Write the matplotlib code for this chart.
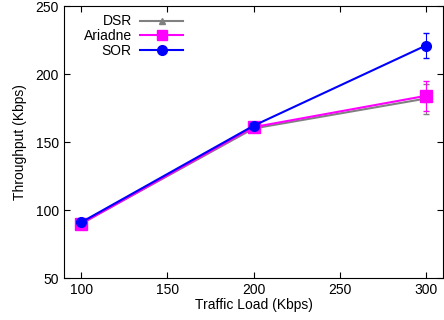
import matplotlib
matplotlib.use("Agg")
import matplotlib.pyplot as plt
from matplotlib.lines import Line2D

plt.rcParams["font.family"] = ["Liberation Sans", "DejaVu Sans"]

# traffic load (Kbps) and throughput (Kbps) per protocol
loads = [100, 200, 300]
dsr = [90, 160, 182]
dsr_err = [1, 2, 11]
ariadne = [90, 161, 184]
ariadne_err = [1, 2, 11]
sor = [91, 162, 221]
sor_err = [1, 2, 9]

series = [
    ("DSR", dsr, dsr_err, "#808080", "^", 5, 5),
    ("Ariadne", ariadne, ariadne_err, "#ff00ff", "s", 8, 7),
    ("SOR", sor, sor_err, "#0000ff", "o", 7, 7),
]

fig = plt.figure(figsize=(4.44, 3.2), dpi=100)
ax = fig.add_axes([0.144, 0.131, 0.854, 0.85])

handles = []
for name, vals, errs, color, marker, size, legsize in series:
    ax.errorbar(loads, vals, yerr=errs, color=color, marker=marker, markersize=size,
                linewidth=1.5, capsize=2, elinewidth=0.8)
    handles.append(Line2D([], [], color=color, marker=marker, markersize=legsize,
                          linewidth=1.5, label=name))

ax.set_xlim(90, 310)
ax.set_ylim(50, 250)
ax.set_xticks([100, 150, 200, 250, 300])
ax.set_yticks([50, 100, 150, 200, 250])
ax.tick_params(direction="in", top=True, right=True, labelsize=10, length=4)
ax.set_xlabel("Traffic Load (Kbps)", fontsize=10, labelpad=1)
ax.set_ylabel("Throughput (Kbps)", fontsize=10, labelpad=6)

ax.legend(handles=handles, loc="upper left", markerfirst=False, frameon=False, fontsize=10,
          handlelength=3.1, borderaxespad=0.2, labelspacing=0.05, handletextpad=0.6,
          bbox_to_anchor=(0.03, 1.0))

fig.savefig("out.png", dpi=100)
